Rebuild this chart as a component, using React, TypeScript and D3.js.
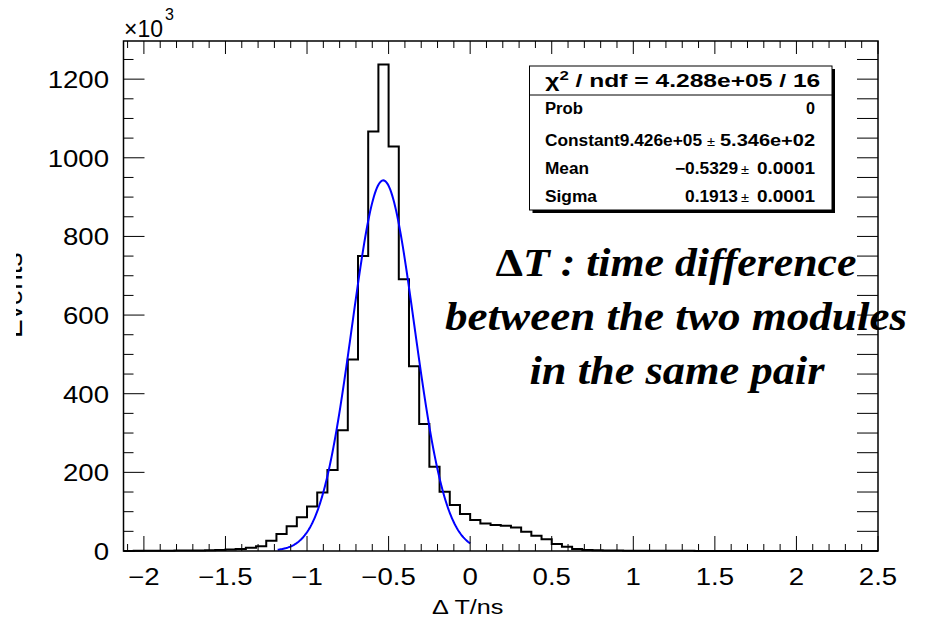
import React from 'react';
import * as d3 from 'd3';

const W = 930;
const H = 621;

// Histogram: 74 bins of width 0.0625 ns starting at -2.125 ns; contents in units of 10^3 events
const binLow = -2.125;
const binWidth = 0.0625;
const counts = [
  0.3, 0.4, 0.5, 0.6, 0.8, 1.0, 1.2, 1.5, 2.0, 2.7, 3.5, 5, 8,
  12, 26, 43, 63, 86, 113, 149, 206, 307, 487,
  750, 1067, 1237, 1029, 691, 470, 323, 214, 151, 117,
  94, 79, 70, 66, 64, 60, 49, 39, 30, 18,
  11, 5, 2.5,
  1.6, 1.2, 1.0, 0.8, 0.7, 0.6, 0.5, 0.45, 0.4, 0.35,
  0.3, 0.3, 0.25, 0.25, 0.2, 0.2, 0.2, 0.15, 0.15, 0.15,
  0.1, 0.1, 0.1, 0.1, 0.1, 0.1, 0.1, 0.1,
];

const xTicks = [-2, -1.5, -1, -0.5, 0, 0.5, 1, 1.5, 2, 2.5];
const xTickLabels = ['\u22122', '\u22121.5', '\u22121', '\u22120.5', '0', '0.5', '1', '1.5', '2', '2.5'];
const yTicks = [0, 200, 400, 600, 800, 1000, 1200];
const yTickLabels = ['0', '200', '400', '600', '800', '1000', '1200'];

// Gaussian fit result
const fitConstant = 942.6; // 10^3
const fitMean = -0.5329;
const fitSigma = 0.1913;
const fitRange = [-1.18, 0];

const statsHeader = ' / ndf = 4.288e+05 / 16';
const statsLabels = ['Prob', 'Constant', 'Mean', 'Sigma'];
const statsValues = ['0', '9.426e+05', '\u22120.5329', '0.1913'];
const statsErrors = ['', '5.346e+02', '0.0001', '0.0001'];

const annotationLines = ['between the two modules', 'in the same pair'];

const SANS = "'Liberation Sans', Arial, Helvetica, sans-serif";
const SERIF = "'Liberation Serif', 'DejaVu Serif', serif";
const SX = 1.2;

function T(props: any) {
  const { x, y, sx = SX, anchor = 'start', size, weight = 'normal', children, family = SANS } = props;
  return (
    <g transform={`translate(${x},${y}) scale(${sx},1)`}>
      <text textAnchor={anchor} fontSize={size} fontWeight={weight} fontFamily={family} fill="#000">
        {children}
      </text>
    </g>
  );
}

// fixed-width stats text
function S(props: any) {
  const { x, y, w, anchor = 'start', size = 16, weight = 'bold', children } = props;
  const x0 = anchor === 'end' ? x - w : x;
  return (
    <text x={x0} y={y} fontSize={size} fontWeight={weight} fontFamily={SANS} fill="#000"
      textLength={w} lengthAdjust="spacingAndGlyphs">{children}</text>
  );
}

export default function App() {
  const left = 123.5, right = 878, top = 41, bottom = 551;
  const x = d3.scaleLinear().domain([binLow, 2.5]).range([left, right]);
  const y = d3.scaleLinear().domain([0, 1297]).range([bottom, top]);

  const pts: [number, number][] = counts.map((c, i) => [binLow + i * binWidth, c]);
  pts.push([binLow + counts.length * binWidth, counts[counts.length - 1]]);
  const histPath = d3.line<[number, number]>().x(d => x(d[0])).y(d => y(d[1])).curve(d3.curveStepAfter)(pts) || '';

  const fitXs = d3.range(0, 201).map(i => fitRange[0] + (i / 200) * (fitRange[1] - fitRange[0]));
  const fitPath = d3.line<number>()
    .x(v => x(v))
    .y(v => y(fitConstant * Math.exp(-0.5 * ((v - fitMean) / fitSigma) ** 2)))(fitXs) || '';

  const xMinor = d3.range(-21, 26).map(i => i / 10);
  const yMinor = d3.range(0, 26).map(i => i * 50);

  const bx0 = 529.5, bx1 = 832, by0 = 66, by1 = 210, bh = 95;
  const rowY = [114, 146, 174, 202];

  return (
    <svg width={W} height={H} style={{ position: 'absolute', left: 0, top: 0, background: '#fff' }}>
      <defs>
        <clipPath id="ytitle">
          <rect x={16} y={0} width={30} height={H} />
        </clipPath>
      </defs>
      <rect x={0} y={0} width={W} height={H} fill="#fff" />

      {/* histogram */}
      <path d={histPath} fill="none" stroke="#000" strokeWidth={2} />
      {/* fit */}
      <path d={fitPath} fill="none" stroke="#0000ff" strokeWidth={2} />

      {/* frame */}
      <rect x={left} y={top} width={right - left} height={bottom - top} fill="none" stroke="#000" strokeWidth={1.5} />

      {/* x ticks */}
      {xMinor.map((v, i) => {
        const major = Math.round(v * 10) % 5 === 0;
        const px = x(v);
        return (
          <g key={'xt' + i}>
            <line x1={px} x2={px} y1={bottom} y2={bottom - (major ? 15 : 7)} stroke="#000" strokeWidth={1} />
            <line x1={px} x2={px} y1={top} y2={top + (major ? 13 : 7)} stroke="#000" strokeWidth={1} />
          </g>
        );
      })}
      {/* y ticks */}
      {yMinor.map((v, i) => {
        const major = v % 200 === 0;
        const py = y(v);
        return (
          <g key={'yt' + i}>
            <line x1={left} x2={left + (major ? 21 : 10)} y1={py} y2={py} stroke="#000" strokeWidth={1} />
            <line x1={right} x2={right - 21} y1={py} y2={py} stroke="#000" strokeWidth={1} />
          </g>
        );
      })}

      {/* tick labels */}
      {xTicks.map((v, i) => (
        <T key={'xl' + i} x={x(v)} y={585} anchor="middle" size={23}>{xTickLabels[i]}</T>
      ))}
      {yTicks.map((v, i) => (
        <T key={'yl' + i} x={109} y={y(v) + 9} anchor="end" size={23}>{yTickLabels[i]}</T>
      ))}

      {/* exponent */}
      <T x={124} y={37} size={23} sx={1}>{'\u00d710'}</T>
      <T x={165} y={20} size={16} sx={1}>3</T>

      {/* axis titles */}
      <T x={432} y={614} size={21}>{'\u0394 T/ns'}</T>
      <g clipPath="url(#ytitle)">
        <g transform="translate(22,338) rotate(-90)">
          <text fontSize={28} fontFamily={SANS} fill="#000">Events</text>
        </g>
      </g>

      {/* stats box */}
      <rect x={bx0 + 3} y={by0 + 3} width={bx1 - bx0} height={by1 - by0} fill="#000" />
      <rect x={bx0} y={by0} width={bx1 - bx0} height={by1 - by0} fill="#fff" stroke="#000" strokeWidth={1} />
      <line x1={bx0} x2={bx1} y1={bh} y2={bh} stroke="#000" strokeWidth={1} />
      <text x={(bx0 + bx1) / 2 + 2} y={87} textAnchor="middle" fontSize={19} fontWeight="bold" fontFamily={SANS}
        textLength={275} lengthAdjust="spacingAndGlyphs">
        {'\u03c7'}<tspan fontSize={13} dy={-7}>2</tspan><tspan dy={7}>{statsHeader}</tspan>
      </text>

      <S x={545} y={rowY[0]} w={38}>{statsLabels[0]}</S>
      <S x={815} y={rowY[0]} w={9} anchor="end">{statsValues[0]}</S>

      <S x={545} y={rowY[1]} w={157}>{statsLabels[1] + statsValues[1]}</S>
      <S x={707} y={rowY[1]} w={8} size={12} weight="normal">{'\u00b1'}</S>
      <S x={815} y={rowY[1]} w={95} anchor="end">{statsErrors[1]}</S>

      <S x={545} y={rowY[2]} w={44}>{statsLabels[2]}</S>
      <S x={738} y={rowY[2]} w={63} anchor="end">{statsValues[2]}</S>
      <S x={741} y={rowY[2]} w={8} size={12} weight="normal">{'\u00b1'}</S>
      <S x={815} y={rowY[2]} w={58} anchor="end">{statsErrors[2]}</S>

      <S x={545} y={rowY[3]} w={52}>{statsLabels[3]}</S>
      <S x={738} y={rowY[3]} w={53} anchor="end">{statsValues[3]}</S>
      <S x={741} y={rowY[3]} w={8} size={12} weight="normal">{'\u00b1'}</S>
      <S x={815} y={rowY[3]} w={58} anchor="end">{statsErrors[3]}</S>

      {/* annotation */}
      <text x={676} y={276} textAnchor="middle" fontSize={40} fontWeight="bold" fontStyle="italic" fontFamily={SERIF}
        textLength={361} lengthAdjust="spacingAndGlyphs">
        <tspan fontStyle="normal">{'\u0394'}</tspan>T : time difference
      </text>
      <text x={676} y={330} textAnchor="middle" fontSize={40} fontWeight="bold" fontStyle="italic" fontFamily={SERIF}
        textLength={462} lengthAdjust="spacingAndGlyphs">{annotationLines[0]}</text>
      <text x={677} y={384} textAnchor="middle" fontSize={40} fontWeight="bold" fontStyle="italic" fontFamily={SERIF}
        textLength={295} lengthAdjust="spacingAndGlyphs">{annotationLines[1]}</text>
    </svg>
  );
}
